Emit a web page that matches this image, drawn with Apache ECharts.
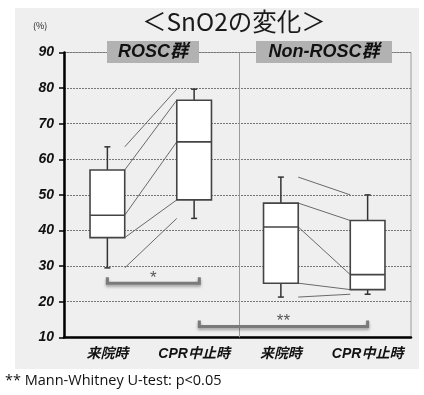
<!DOCTYPE html>
<html><head><meta charset="utf-8">
<script src="https://cdn.jsdelivr.net/npm/echarts@6/dist/echarts.min.js"></script>
<style>html,body{margin:0;padding:0;background:#fff}#c{width:424px;height:395px}</style>
</head><body><div id="c"></div>
<script>
const categories = ['来院時', 'CPR中止時', '来院時', 'CPR中止時'];
const groups = ['ROSC群', 'Non-ROSC群'];
// [min, Q1, median, Q3, max]
const roscArrival = [29.5, 38, 44.3, 57, 63.5];
const roscCprStop = [43.4, 48.6, 64.9, 76.6, 79.7];
const nonArrival = [21.3, 25.2, 41, 47.7, 55];
const nonCprStop = [22.1, 23.4, 27.6, 42.8, 50];
const yTicks = [10, 20, 30, 40, 50, 60, 70, 80, 90];
// significance brackets: [fromCategory, toCategory, level, mark]
const sigBrackets = [[0, 1, 25.2, '*'], [1, 3, 13, '**']];
const footnote = '** Mann-Whitney U-test: p<0.05';
const titleText = '＜SnO2の変化＞';

const boxes = [roscArrival, roscCprStop, nonArrival, nonCprStop];
const boxData = boxes.map((b, i) => [i].concat(b));
const linkData = [];
[[0, 1], [2, 3]].forEach(([a, b]) => {
  for (let k = 0; k < 5; k++) linkData.push([a, boxes[a][k], b, boxes[b][k]]);
});

const labFont = {fontFamily: 'Liberation Sans, Noto Sans CJK JP', fontWeight: 'bold', fontStyle: 'italic'};
const chart = echarts.init(document.getElementById('c'));
chart.setOption({
  animation: false,
  grid: {left: 64, right: 13, top: 52.5, bottom: 57.7, show: true, borderColor: '#9a9a9a', borderWidth: 1, backgroundColor: 'transparent'},
  graphic: [
    {type: 'rect', z: -10, shape: {x: 15, y: 8, width: 404, height: 361}, style: {fill: '#efefef'}},
    {type: 'text', z: 10, left: 142, top: 9, style: {text: titleText, font: '24.5px "Noto Sans CJK JP"', fill: '#1a1a1a'}},
    {type: 'text', z: 10, left: 33, top: 21, style: {text: '(%)', font: '9px "Noto Sans CJK JP"', fill: '#222'}},
    {type: 'rect', z: 10, shape: {x: 107, y: 41, width: 92, height: 22}, style: {fill: '#b2b2b2'}},
    {type: 'text', z: 11, x: 153, y: 52, style: {text: groups[0], font: 'italic bold 18px "Liberation Sans", "Noto Sans CJK JP"', fill: '#111', align: 'center', verticalAlign: 'middle'}},
    {type: 'rect', z: 10, shape: {x: 256, y: 41, width: 136, height: 22}, style: {fill: '#b2b2b2'}},
    {type: 'text', z: 11, x: 324, y: 52, style: {text: groups[1], font: 'italic bold 18px "Liberation Sans", "Noto Sans CJK JP"', fill: '#111', align: 'center', verticalAlign: 'middle'}},
    {type: 'text', z: 10, left: 5, top: 373, style: {text: footnote, font: '14.5px "Open Sans"', fill: '#111'}}
  ],
  xAxis: {
    type: 'category', data: categories, boundaryGap: true,
    axisLine: {lineStyle: {color: '#000', width: 2.5}},
    axisTick: {show: false},
    axisLabel: Object.assign({fontSize: 14, color: '#111', margin: 10, interval: 0}, labFont),
    splitLine: {show: false}
  },
  yAxis: {
    type: 'value', min: 10, max: 90, interval: 10,
    axisLine: {show: true, lineStyle: {color: '#000', width: 2.5}},
    axisTick: {show: true, length: 5, lineStyle: {color: '#000', width: 1.5}},
    axisLabel: Object.assign({fontSize: 14, color: '#111', margin: 10,
      formatter: v => yTicks.includes(v) ? String(v) : ''}, labFont),
    splitLine: {show: true, lineStyle: {color: '#777', type: [2, 1], width: 1}}
  },
  series: [
    {
      type: 'custom', z: 3, data: [[1]],
      encode: {x: 0},
      renderItem(params, api) {
        const band = api.size([1, 0])[0];
        const c = api.coord([1, 90]);
        const b = api.coord([1, 10]);
        const x = c[0] + band / 2 + 2;
        return {type: 'line', shape: {x1: x, y1: c[1], x2: x, y2: b[1]}, style: {stroke: '#9a9a9a', lineWidth: 1}};
      }
    },
    {
      type: 'custom', z: 4, data: linkData,
      encode: {x: [0, 2], y: [1, 3]},
      renderItem(params, api) {
        const hw = api.size([1, 0])[0] * 0.2;
        const p1 = api.coord([api.value(0), api.value(1)]);
        const p2 = api.coord([api.value(2), api.value(3)]);
        return {type: 'line', shape: {x1: p1[0] + hw, y1: p1[1], x2: p2[0] - hw, y2: p2[1]}, style: {stroke: '#6a6a6a', lineWidth: 1}};
      }
    },
    {
      type: 'custom', z: 5, data: boxData,
      encode: {x: 0, y: [1, 2, 3, 4, 5]},
      renderItem(params, api) {
        const i = api.value(0);
        const hw = api.size([1, 0])[0] * 0.2;
        const pt = k => api.coord([i, api.value(k)]);
        const mn = pt(1), q1 = pt(2), md = pt(3), q3 = pt(4), mx = pt(5);
        const cx = md[0];
        const st = {stroke: '#333', lineWidth: 1.5};
        return {type: 'group', children: [
          {type: 'line', shape: {x1: cx, y1: q3[1], x2: cx, y2: mx[1]}, style: st},
          {type: 'line', shape: {x1: cx - 3, y1: mx[1], x2: cx + 3, y2: mx[1]}, style: st},
          {type: 'line', shape: {x1: cx, y1: q1[1], x2: cx, y2: mn[1]}, style: st},
          {type: 'line', shape: {x1: cx - 3, y1: mn[1], x2: cx + 3, y2: mn[1]}, style: st},
          {type: 'rect', shape: {x: cx - hw, y: q3[1], width: hw * 2, height: q1[1] - q3[1]}, style: {fill: '#fff', stroke: '#444', lineWidth: 1.6}},
          {type: 'line', shape: {x1: cx - hw, y1: md[1], x2: cx + hw, y2: md[1]}, style: {stroke: '#444', lineWidth: 1.6}}
        ]};
      }
    },
    {
      type: 'custom', z: 6, data: sigBrackets,
      encode: {x: [0, 1], y: 2},
      renderItem(params, api) {
        const band = api.size([1, 0])[0];
        const shift = idx => idx === 1 ? band * 0.06 : 0;
        const a = api.value(0), b = api.value(1);
        const p1 = api.coord([a, api.value(2)]);
        const p2 = api.coord([b, api.value(2)]);
        const x1 = p1[0] + shift(a), x2 = p2[0] + shift(b), y = p1[1];
        const mark = sigBrackets[params.dataIndex][3];
        return {type: 'group', children: [
          {type: 'polyline', shape: {points: [[x1, y - 6], [x1, y], [x2, y], [x2, y - 6]]},
           style: {stroke: '#7a7a7a', lineWidth: 3, fill: null, shadowBlur: 3, shadowColor: 'rgba(0,0,0,0.35)', shadowOffsetY: 2}},
          {type: 'text', x: (x1 + x2) / 2, y: y - 5, style: {text: mark, font: '17px "Liberation Sans"', fill: '#555', align: 'center', verticalAlign: 'middle'}}
        ]};
      }
    }
  ]
});
</script></body></html>
